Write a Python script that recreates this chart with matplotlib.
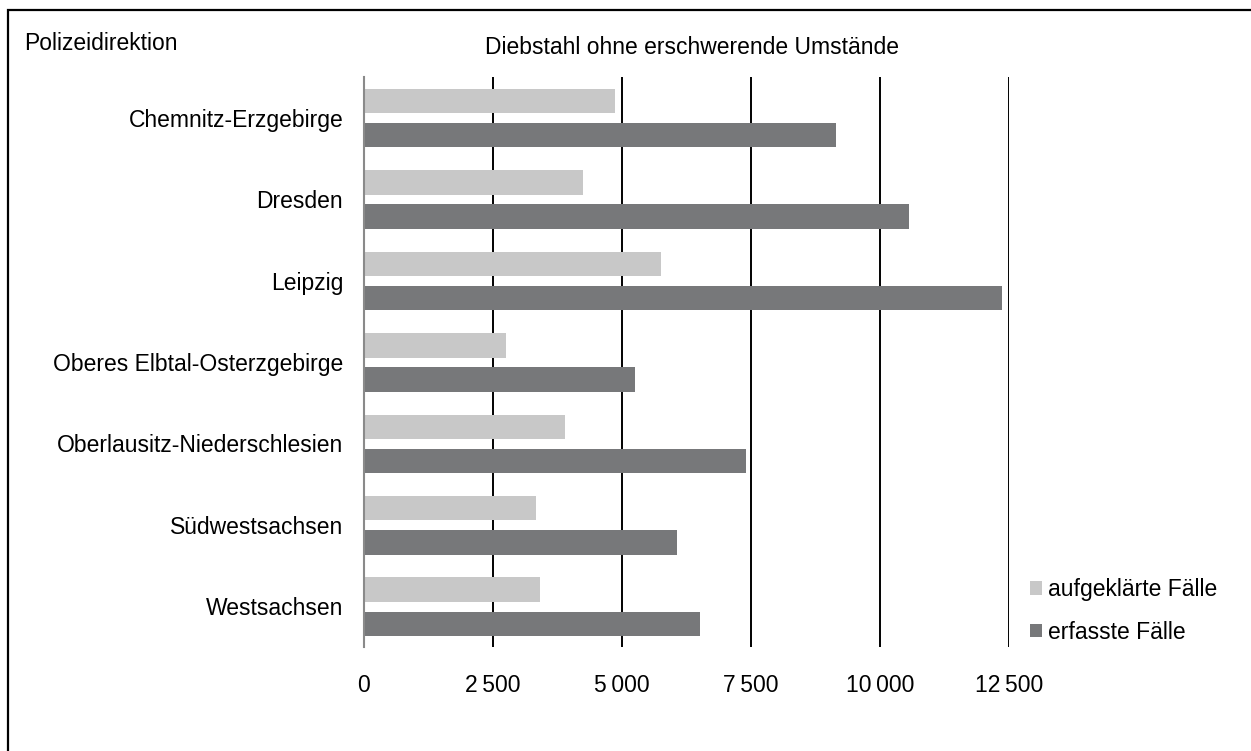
import matplotlib
matplotlib.use("Agg")
import matplotlib.pyplot as plt
from matplotlib.patches import Rectangle
from matplotlib.ticker import FuncFormatter
import numpy as np

plt.rcParams["font.family"] = ["Liberation Sans", "DejaVu Sans"]

categories = [
    "Chemnitz-Erzgebirge",
    "Dresden",
    "Leipzig",
    "Oberes Elbtal-Osterzgebirge",
    "Oberlausitz-Niederschlesien",
    "Südwestsachsen",
    "Westsachsen",
]
aufgeklaert = [4860, 4245, 5755, 2750, 3905, 3335, 3405]
erfasst = [9140, 10565, 12360, 5250, 7405, 6070, 6520]
x_ticks = [0, 2500, 5000, 7500, 10000, 12500]

LIGHT = "#C8C8C8"
DARK = "#77787A"
FS = 16.5

W, H = 1251, 751
fig = plt.figure(figsize=(W / 100, H / 100), dpi=100)
ax = fig.add_axes([364 / W, 1 - 647 / H, (1009 - 364) / W, (647 - 77) / H])

y = np.arange(len(categories))
bar_h = 0.30
ax.barh(y - 0.205, aufgeklaert, height=bar_h, color=LIGHT, label="aufgeklärte Fälle", zorder=3)
ax.barh(y + 0.215, erfasst, height=bar_h, color=DARK, label="erfasste Fälle", zorder=3)

ax.set_ylim(len(categories) - 0.5, -0.5)
ax.set_xlim(0, 12500)
ax.set_yticks(y)
ax.set_yticklabels(categories, fontsize=FS)
ax.set_xticks(x_ticks)
ax.xaxis.set_major_formatter(FuncFormatter(lambda v, p: f"{int(v):,}".replace(",", "\u2009")))
ax.tick_params(axis="x", length=0, pad=19.5, labelsize=FS)
ax.tick_params(axis="y", length=0, pad=15)

for v in x_ticks[1:]:
    ax.axvline(v, color="black", lw=1.4, zorder=1)

for s in ("top", "right", "bottom"):
    ax.spines[s].set_visible(False)
ax.spines["left"].set_color("#8a8a8a")
ax.spines["left"].set_linewidth(1.5)
ax.spines["left"].set_zorder(4)

fig.text(692 / W, 1 - 47 / H, "Diebstahl ohne erschwerende Umstände",
         ha="center", va="center", fontsize=FS)
fig.text(24 / W, 1 - 44 / H, "Polizeidirektion", ha="left", va="center", fontsize=FS)

fig.legend(loc="upper left", bbox_to_anchor=(1030 / W, 1 - 578 / H), frameon=False,
           fontsize=FS, handlelength=0.52, handleheight=0.52, handletextpad=0.26,
           labelspacing=0.87, borderpad=0, borderaxespad=0)

fig.patches.append(Rectangle((8 / W, -0.1), 1.2, (H - 10) / H + 0.1,
                             transform=fig.transFigure, fill=False,
                             edgecolor="black", lw=1.6, clip_on=False))

fig.savefig("out.png", dpi=100)
